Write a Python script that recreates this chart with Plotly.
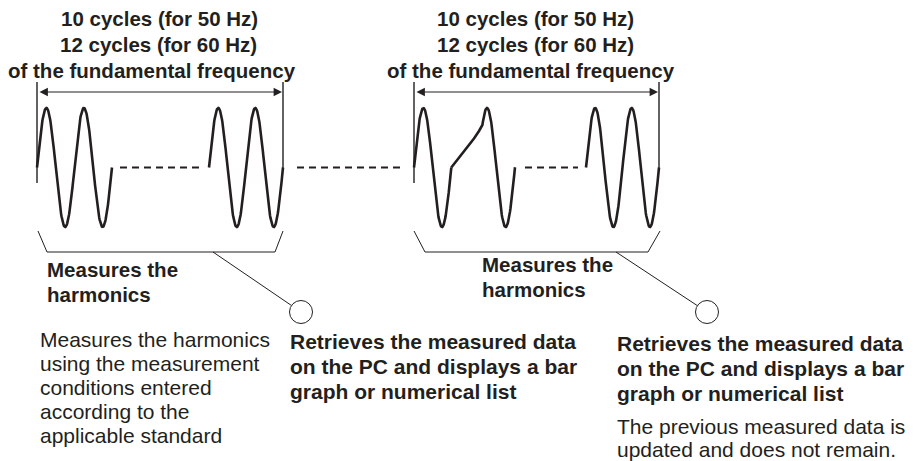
import numpy as np
import plotly.graph_objects as go

W, H = 918, 461
INK = "#231f20"
FONT = "Liberation Sans"

# ---- diagram geometry (pixel units) ----
MID, AMP = 167.5, 59.5
# plain sine segments: start x, period, cycles
seg_start = [37.0, 209.0, 414.0, 586.0]
seg_period = [37.5, 37.0, 37.3, 36.5]
seg_cycles = [2, 2, 1, 2]
# distorted part of the second window
distort_pts_x = [451.3, 458.0, 466.0, 474.0, 479.0, 482.4]
distort_pts_y = [167.5, 159.0, 149.0, 138.5, 131.0, 125.0]
tail_peak_x, tail_end_x = 487.0, 515.0
# dashed gaps
dash_x0 = [120.0, 297.0, 525.0]
dash_x1 = [200.0, 400.0, 578.0]
# window boundaries (left, right)
win_left = [37.0, 414.0]
win_right = [283.0, 659.0]
arrow_y = 92.0
# brackets: left-top x, left-bottom x, right-bottom x, right-top x
br_lt = [38.0, 414.0]
br_lb = [47.0, 425.0]
br_rb = [275.0, 648.0]
br_rt = [283.0, 660.0]
br_top_y, br_bot_y = 231.0, 252.0
lead_x0 = [213.0, 616.0]
circ_cx = [301.0, 707.0]
circ_cy = [312.0, 312.0]
circ_r = 11.5

top_lines = ["10 cycles (for 50 Hz)", "12 cycles (for 60 Hz)", "of the fundamental frequency"]
top_cx = [[159, 158, 152], [535, 535, 531]]
top_cy = [18, 44, 70]

meas_lines = ["Measures the", "harmonics"]
meas_x = [45, 480]
meas_y = [[269, 294], [264, 289]]

retr_lines = ["Retrieves the measured data", "on the PC and displays a bar", "graph or numerical list"]
retr_x = [288, 615]
retr_y = [[341, 366, 391], [343, 368, 393]]

note1_lines = ["Measures the harmonics", "using the measurement", "conditions entered",
               "according to the", "applicable standard"]
note1_x = 38
note1_y = [339, 363, 387, 411, 435]

note2_lines = ["The previous measured data is", "updated and does not remain."]
note2_x = 615
note2_y = [426, 449]

fig = go.Figure()

def add_line(xs, ys, width, dash=None):
    fig.add_trace(go.Scatter(x=xs, y=ys, mode="lines",
                             line=dict(color=INK, width=width, dash=dash, shape="linear"),
                             hoverinfo="skip", showlegend=False))

# sine segments
for x0, p, n in zip(seg_start, seg_period, seg_cycles):
    xs = np.linspace(x0, x0 + p * n, 200)
    ys = MID - AMP * np.sin(2 * np.pi * (xs - x0) / p)
    add_line(xs, ys, 2.6)

# distorted part + tail
p = seg_period[2]
x0t = tail_peak_x - p / 4
xs_t = np.linspace(distort_pts_x[-1], tail_end_x, 80)
ys_t = MID - AMP * np.sin(2 * np.pi * (xs_t - x0t) / p)
add_line(list(distort_pts_x) + list(xs_t), list(distort_pts_y) + list(ys_t), 2.6)

# dashed gaps
for a, b in zip(dash_x0, dash_x1):
    add_line([a, b], [MID, MID], 2.0, dash="7px,5px")

# window boundary lines with double arrow
for xl, xr in zip(win_left, win_right):
    add_line([xl, xl], [82, 183], 1.4)
    add_line([xr, xr], [82, 168], 1.4)
    fig.add_annotation(x=xr - 1, y=arrow_y, ax=xl + 1, ay=arrow_y, xref="x", yref="y",
                       axref="x", ayref="y", text="", showarrow=True,
                       arrowhead=2, startarrowhead=2, arrowside="end+start",
                       arrowsize=1.4, startarrowsize=1.4, arrowwidth=1.2, arrowcolor=INK)

# brackets, leaders and circles
for i in range(2):
    add_line([br_lt[i], br_lb[i], br_rb[i], br_rt[i]],
             [br_top_y, br_bot_y, br_bot_y, br_top_y], 1.0)
    dx = circ_cx[i] - lead_x0[i]
    dy = circ_cy[i] - br_bot_y
    d = np.hypot(dx, dy)
    add_line([lead_x0[i], circ_cx[i] - dx / d * circ_r],
             [br_bot_y, circ_cy[i] - dy / d * circ_r], 1.0)
    fig.add_shape(type="circle", xref="x", yref="y",
                  x0=circ_cx[i] - circ_r, x1=circ_cx[i] + circ_r,
                  y0=circ_cy[i] - circ_r, y1=circ_cy[i] + circ_r,
                  line=dict(color=INK, width=1.0), fillcolor="white")

def txt(x, y, s, bold, size, anchor="left"):
    fig.add_annotation(x=x, y=y, xref="x", yref="y", text=f"<b>{s}</b>" if bold else s,
                       showarrow=False, xanchor=anchor, yanchor="middle",
                       font=dict(family=FONT, size=size, color=INK))

for g in range(2):
    for j, s in enumerate(top_lines):
        txt(top_cx[g][j], top_cy[j], s, True, 20.5, anchor="center")
    for j, s in enumerate(meas_lines):
        txt(meas_x[g], meas_y[g][j], s, True, 20.5)
    for j, s in enumerate(retr_lines):
        txt(retr_x[g], retr_y[g][j], s, True, 21)
for j, s in enumerate(note1_lines):
    txt(note1_x, note1_y[j], s, False, 21)
for j, s in enumerate(note2_lines):
    txt(note2_x, note2_y[j], s, False, 21)

fig.update_layout(width=W, height=H, autosize=False,
                  margin=dict(l=0, r=0, t=0, b=0, pad=0),
                  paper_bgcolor="white", plot_bgcolor="white",
                  xaxis=dict(range=[0, W], visible=False, fixedrange=True),
                  yaxis=dict(range=[H, 0], visible=False, fixedrange=True),
                  showlegend=False)

fig.write_html("out.html", config={"displayModeBar": False},
               post_script="document.body.style.margin='0';document.body.style.overflow='hidden';")
